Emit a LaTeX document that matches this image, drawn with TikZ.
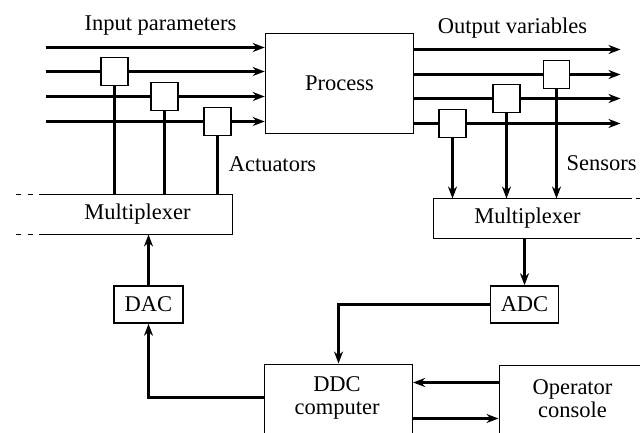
\documentclass[tikz,border=0pt]{standalone}
\usepackage{fontspec}
\setmainfont{Liberation Serif}
\usetikzlibrary{arrows.meta}
\begin{document}
\begin{tikzpicture}[x=1pt,y=-1pt,
  every node/.style={font=\fontsize{22.5}{23}\selectfont, inner sep=0pt},
  box/.style={draw, line width=1.6pt, fill=white},
  small/.style={box, minimum width=27pt, minimum height=28pt},
  ln/.style={line width=2.2pt},
  arr/.style={ln, -{Stealth[length=12pt,width=9pt]}},
  bus/.style={line width=1.6pt}]
\useasboundingbox (-0.5,-0.5) rectangle (639.5,432.5);
\clip (-0.5,-0.5) rectangle (639.5,432.5);
% process
\node[box, minimum width=148pt, minimum height=100pt] (P) at (339,83) {Process};
% input lines
\foreach \i/\y in {1/47,2/71,3/96,4/120} \coordinate (in\i) at (45,\y);
\node[small] (A1) at (114,71) {};
\node[small] (A2) at (164,96) {};
\node[small] (A3) at (217,121) {};
\draw[arr] (in1) -- (in1 -| P.west);
\draw[ln] (in2) -- (A1.west);
\draw[arr] (A1.east) -- (A1.east -| P.west);
\draw[ln] (in3) -- (A2.west);
\draw[arr] (A2.east) -- (A2.east -| P.west);
\draw[ln] (in4 |- A3.west) -- (A3.west);
\draw[arr] (A3.east) -- (A3.east -| P.west);
% output lines
\foreach \i/\y in {1/49,2/74,3/98,4/123} {
  \coordinate (out\i) at (620,\y);
  \draw[arr] (P.east |- out\i) -- (out\i);
}
\node[small] (S1) at (452,123) {};
\node[small] (S2) at (506,98) {};
\node[small, minimum width=26pt] (S3) at (556,74) {};
% left multiplexer (bus)
\coordinate (LT) at (38,194);
\coordinate (LB) at (38,234);
\coordinate (LR) at (232,194);
\draw[bus] (LT) -- (LR) -- (LR |- LB) -- (LB);
\draw[bus, dash pattern=on 5pt off 7pt] (15,194) -- (LT);
\draw[bus, dash pattern=on 5pt off 7pt] (15,234) -- (LB);
\node (ML) at (137,214) {Multiplexer};
% actuator verticals
\draw[ln] (A1.south) -- (A1.south |- LT);
\draw[ln] (A2.south) -- (A2.south |- LT);
\draw[ln] (A3.south) -- (A3.south |- LT);
% right multiplexer
\coordinate (RT) at (631,198);
\coordinate (RB) at (631,238);
\coordinate (RL) at (433,198);
\draw[bus] (RT) -- (RL) -- (RL |- RB) -- (RB);
\draw[bus] (635,198) -- (640,198);
\draw[bus] (635,238) -- (640,238);
\node (MR) at (527,218) {Multiplexer};
% sensor arrows
\draw[arr] (S1.south) -- (S1.south |- RL);
\draw[arr] (S2.south) -- (S2.south |- RL);
\draw[arr] (S3.south) -- (S3.south |- RL);
% DAC, ADC
\node[box, minimum width=69pt, minimum height=37pt] (DAC) at (148,304) {DAC};
\node[box, minimum width=68pt, minimum height=37pt] (ADC) at (524,304) {ADC};
\draw[arr] (DAC.north) -- (DAC.north |- LB);
\draw[arr] (ADC.north |- RB) -- (ADC.north);
% DDC and console
\node[box, minimum width=148pt, minimum height=100pt, anchor=north west] (DDC) at (263,363) {};
\node[align=center] (DDCt) at (336.5,397) {DDC\\computer};
\node[box, minimum width=160pt, minimum height=100pt, anchor=north west] (OC) at (498,364) {};
\node[align=center] (OCt) at (572,398) {Operator\\console};
\coordinate (c1) at (148,397);
\coordinate (c2) at (338,304);
\draw[arr] (DDC.west |- c1) -- (c1) -- (DAC.south);
\draw[arr] (ADC.west) -- (c2) -- (c2 |- DDC.north);
\draw[arr] (OC.west |- 0,382) -- (DDC.east |- 0,382);
\draw[arr] (DDC.east |- 0,418) -- (OC.west |- 0,418);
% labels
\node (lin) at (160,25) {Input parameters};
\node (lout) at (512,28) {Output variables};
\node (lact) at (272,164) {Actuators};
\node[anchor=west] (lsen) at (566,163) {Sensors};
\end{tikzpicture}
\end{document}
